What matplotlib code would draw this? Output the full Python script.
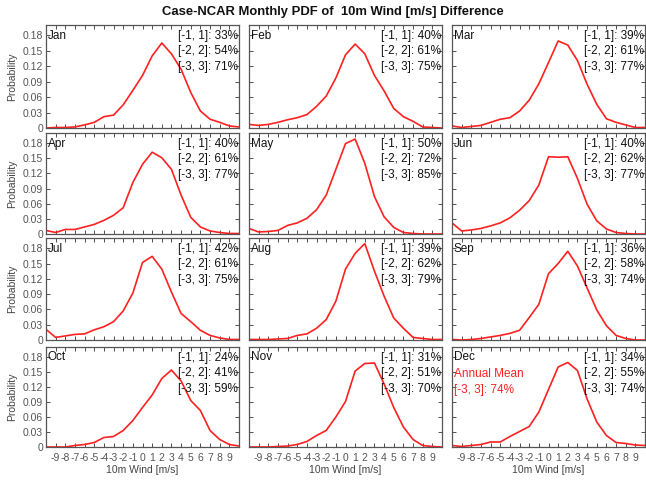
import matplotlib
matplotlib.use("Agg")
import matplotlib.pyplot as plt
import numpy as np

plt.rcParams['font.family'] = ['Liberation Sans', 'DejaVu Sans']

wind = list(range(-10, 11))
months = ["Jan", "Feb", "Mar", "Apr", "May", "Jun",
          "Jul", "Aug", "Sep", "Oct", "Nov", "Dec"]

jan = [0.000, 0.001, 0.001, 0.002, 0.006, 0.011, 0.022, 0.025, 0.045, 0.073, 0.102,
       0.140, 0.165, 0.144, 0.114, 0.069, 0.033, 0.017, 0.011, 0.004, 0.002]
feb = [0.007, 0.005, 0.007, 0.011, 0.016, 0.020, 0.026, 0.042, 0.062, 0.097, 0.142,
       0.163, 0.144, 0.102, 0.072, 0.038, 0.022, 0.013, 0.002, 0.001, 0.000]
mar = [0.004, 0.001, 0.003, 0.005, 0.011, 0.017, 0.020, 0.033, 0.054, 0.086, 0.127,
       0.169, 0.161, 0.131, 0.085, 0.046, 0.018, 0.011, 0.006, 0.001, 0.001]
apr = [0.007, 0.003, 0.009, 0.009, 0.014, 0.019, 0.027, 0.037, 0.052, 0.102, 0.138,
       0.162, 0.151, 0.128, 0.077, 0.033, 0.014, 0.006, 0.003, 0.001, 0.001]
may = [0.011, 0.004, 0.005, 0.007, 0.017, 0.022, 0.031, 0.048, 0.077, 0.128, 0.179,
       0.188, 0.140, 0.074, 0.034, 0.013, 0.003, 0.001, 0.000, 0.000, 0.000]
jun = [0.022, 0.006, 0.008, 0.011, 0.016, 0.022, 0.032, 0.047, 0.066, 0.097, 0.153,
       0.152, 0.153, 0.110, 0.059, 0.026, 0.010, 0.003, 0.001, 0.000, 0.000]
jul = [0.021, 0.005, 0.008, 0.011, 0.012, 0.020, 0.026, 0.036, 0.057, 0.092, 0.152,
       0.164, 0.139, 0.094, 0.052, 0.036, 0.019, 0.009, 0.004, 0.001, 0.001]
aug = [0.001, 0.001, 0.001, 0.002, 0.003, 0.009, 0.012, 0.023, 0.040, 0.076, 0.139,
       0.170, 0.189, 0.135, 0.086, 0.043, 0.023, 0.005, 0.003, 0.001, 0.001]
sep = [0.001, 0.000, 0.001, 0.003, 0.006, 0.009, 0.013, 0.019, 0.044, 0.070, 0.130,
       0.150, 0.174, 0.145, 0.102, 0.059, 0.028, 0.009, 0.003, 0.000, 0.000]
oct_ = [0.000, 0.000, 0.000, 0.003, 0.005, 0.009, 0.019, 0.021, 0.033, 0.053, 0.079,
        0.104, 0.137, 0.154, 0.132, 0.093, 0.073, 0.033, 0.015, 0.005, 0.002]
nov = [0.000, 0.000, 0.000, 0.001, 0.002, 0.005, 0.011, 0.023, 0.033, 0.060, 0.091,
       0.152, 0.167, 0.168, 0.126, 0.079, 0.040, 0.015, 0.003, 0.001, 0.000]
dec = [0.003, 0.001, 0.003, 0.005, 0.010, 0.010, 0.021, 0.031, 0.041, 0.070, 0.115,
       0.160, 0.169, 0.153, 0.096, 0.050, 0.023, 0.009, 0.007, 0.004, 0.003]
series = [jan, feb, mar, apr, may, jun, jul, aug, sep, oct_, nov, dec]

pct_1 = [33, 40, 39, 40, 50, 40, 42, 39, 36, 24, 31, 34]
pct_2 = [54, 61, 61, 61, 72, 62, 61, 62, 58, 41, 51, 55]
pct_3 = [71, 75, 77, 77, 85, 77, 75, 79, 74, 59, 70, 74]
annual_pct_3 = 74

xticks = list(range(-9, 10))
yticks = [0, 0.03, 0.06, 0.09, 0.12, 0.15, 0.18]
ytick_labels = ["0", "0.03", "0.06", "0.09", "0.12", "0.15", "0.18"]

W, H = 646, 480
fig = plt.figure(figsize=(W / 100, H / 100), dpi=100)

col_left = [46, 249, 452]
col_w = 193
row_top = [25, 133, 238, 347]
row_h = [103, 101, 102, 100]

gray = "#555555"
for i in range(12):
    r, c = divmod(i, 3)
    left = col_left[c] / W
    bottom = 1 - (row_top[r] + row_h[r]) / H
    ax = fig.add_axes([left, bottom, col_w / W, row_h[r] / H])
    ax.plot(wind, series[i], color="#ff2020", lw=1.2)
    ax.set_xlim(-10, 10)
    ax.set_ylim(0, 0.2)
    ax.set_xticks(xticks)
    ax.set_yticks(yticks)
    ax.tick_params(direction="in", top=True, right=True, length=3, width=0.6,
                   colors="#333333", labelcolor=gray, labelsize=7.5, pad=2)
    for s in ax.spines.values():
        s.set_color("#555555")
        s.set_linewidth(0.9)
    if c == 0:
        ax.set_yticklabels(ytick_labels)
        ax.set_ylabel("Probability", fontsize=7.5, color="#444444", labelpad=4)
    else:
        ax.set_yticklabels([])
    if r == 3:
        ax.set_xticklabels([str(v) for v in xticks])
        ax.set_xlabel("10m Wind [m/s]", fontsize=7.5, color="#444444", labelpad=2)
        ax.tick_params(axis="x", pad=4)
    else:
        ax.set_xticklabels([])
    ax.text(0.01, 0.955, months[i], transform=ax.transAxes, ha="left", va="top",
            fontsize=8.5, color="#111111")
    ax.text(0.995, 0.955,
            f"[-1, 1]: {pct_1[i]}%\n[-2, 2]: {pct_2[i]}%\n[-3, 3]: {pct_3[i]}%",
            transform=ax.transAxes, ha="right", va="top", fontsize=8.5,
            color="#111111", linespacing=1.4)
    if i == 11:
        ax.text(0.01, 0.79, f"Annual Mean\n[-3, 3]: {annual_pct_3}%",
                transform=ax.transAxes, ha="left", va="top", fontsize=8.5,
                color="#ff2020", linespacing=1.4)

fig.text(0.515, 1 - 12 / H, "Case-NCAR Monthly PDF of  10m Wind [m/s] Difference",
         ha="center", va="center", fontsize=9.4, fontweight="bold", color="#111111")

fig.savefig("out.png", dpi=100)
